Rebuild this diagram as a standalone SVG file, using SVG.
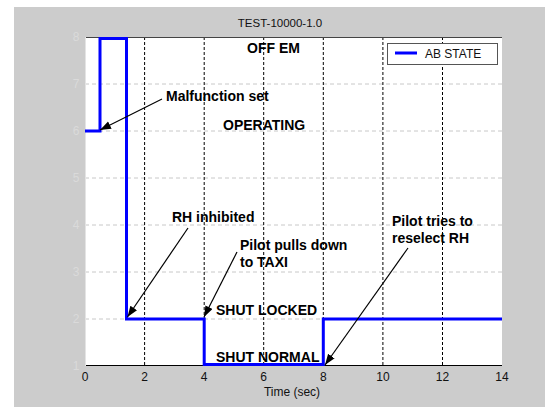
<svg xmlns="http://www.w3.org/2000/svg" width="545" height="407" viewBox="0 0 545 407">
<defs>
<style>
.lbl{font-family:"Liberation Sans",Arial,sans-serif;font-weight:bold;font-size:14px;fill:#000}
.tick{font-family:"Liberation Sans",Arial,sans-serif;font-size:12px;fill:#111;text-anchor:middle}
.ytick{font-family:"Liberation Sans",Arial,sans-serif;font-size:12px;fill:#dadada;text-anchor:middle}
.vgrid{stroke:#000;stroke-width:1;stroke-dasharray:3,2}
.hgrid{stroke:#c8c8c8;stroke-width:1;stroke-dasharray:4,3}
.arrow{stroke:#000;stroke-width:1.2;fill:none;marker-end:url(#ah)}
</style>
<marker id="ah" markerUnits="userSpaceOnUse" markerWidth="12" markerHeight="10" refX="11" refY="4" orient="auto">
<path d="M0,0 L11,4 L0,8 Z" fill="#000"/>
</marker>
</defs>
<rect x="0" y="0" width="545" height="407" fill="#fff"/>
<rect x="14" y="7" width="531" height="400" fill="#cccccc"/>
<text x="280" y="27" font-family="Liberation Sans,Arial,sans-serif" font-size="11.5" text-anchor="middle" fill="#111">TEST-10000-1.0</text>
<g id="axes">
<rect x="85" y="37" width="417" height="329" fill="#fff"/>
<g id="hgrid">
<line class="hgrid" x1="85" y1="84" x2="502" y2="84"/>
<line class="hgrid" x1="85" y1="131" x2="502" y2="131"/>
<line class="hgrid" x1="85" y1="178" x2="502" y2="178"/>
<line class="hgrid" x1="85" y1="225" x2="502" y2="225"/>
<line class="hgrid" x1="85" y1="272" x2="502" y2="272"/>
<line class="hgrid" x1="85" y1="319" x2="502" y2="319"/>
</g>
<g id="vgrid">
<line class="vgrid" x1="144.6" y1="37" x2="144.6" y2="366"/>
<line class="vgrid" x1="204.2" y1="37" x2="204.2" y2="366"/>
<line class="vgrid" x1="263.7" y1="37" x2="263.7" y2="366"/>
<line class="vgrid" x1="323.3" y1="37" x2="323.3" y2="366"/>
<line class="vgrid" x1="382.9" y1="37" x2="382.9" y2="366"/>
<line class="vgrid" x1="442.5" y1="37" x2="442.5" y2="366"/>
</g>
<line x1="85" y1="37.5" x2="502" y2="37.5" stroke="#444" stroke-width="1"/>
<line x1="85" y1="365.5" x2="502" y2="365.5" stroke="#000" stroke-width="1"/>
<line x1="85.5" y1="37" x2="85.5" y2="366" stroke="#e4e4e4" stroke-width="1"/>
<g id="xticks">
<text class="tick" x="85" y="381">0</text>
<text class="tick" x="144.6" y="381">2</text>
<text class="tick" x="204.2" y="381">4</text>
<text class="tick" x="263.7" y="381">6</text>
<text class="tick" x="323.3" y="381">8</text>
<text class="tick" x="382.9" y="381">10</text>
<text class="tick" x="442.5" y="381">12</text>
<text class="tick" x="502" y="381">14</text>
</g>
<g id="yticks">
<text class="ytick" x="76" y="41">8</text>
<text class="ytick" x="76" y="88">7</text>
<text class="ytick" x="76" y="135">6</text>
<text class="ytick" x="76" y="182">5</text>
<text class="ytick" x="76" y="229">4</text>
<text class="ytick" x="76" y="276">3</text>
<text class="ytick" x="76" y="323">2</text>
<text class="ytick" x="76" y="370">1</text>
</g>
<text x="292" y="396" font-family="Liberation Sans,Arial,sans-serif" font-size="12" text-anchor="middle" fill="#111">Time (sec)</text>
</g>
<g id="ab-state">
<path d="M85,131 H100 V38.5 H126.5 V319 H204.2 V364.5 H323.3 V319 H502" fill="none" stroke="#0000ff" stroke-width="3"/>
</g>
<g id="legend">
<rect x="387.5" y="43.5" width="110" height="21" fill="#fff" stroke="#555" stroke-width="1"/>
<line x1="395" y1="53" x2="417" y2="53" stroke="#0000ff" stroke-width="3"/>
<text x="425" y="57.5" font-family="Liberation Sans,Arial,sans-serif" font-size="12" fill="#111">AB STATE</text>
</g>
<g id="state-labels">
<text class="lbl" x="247" y="53">OFF EM</text>
<text class="lbl" x="223" y="130">OPERATING</text>
<text class="lbl" x="216" y="315">SHUT LOCKED</text>
<text class="lbl" x="216" y="362">SHUT NORMAL</text>
</g>
<g id="annotations">
<text class="lbl" x="166" y="101">Malfunction set</text>
<text class="lbl" x="172" y="222">RH inhibited</text>
<text class="lbl" x="240" y="250">Pilot pulls down</text>
<text class="lbl" x="240" y="267">to TAXI</text>
<text class="lbl" x="392" y="226">Pilot tries to</text>
<text class="lbl" x="392" y="243">reselect RH</text>
</g>
<g id="connectors">
<line class="arrow" x1="162" y1="99" x2="100" y2="130"/>
<line class="arrow" x1="188" y1="228" x2="127.5" y2="317"/>
<line class="arrow" x1="237" y1="252" x2="204" y2="317"/>
<line class="arrow" x1="408" y1="248" x2="325" y2="365"/>
</g>
</svg>
